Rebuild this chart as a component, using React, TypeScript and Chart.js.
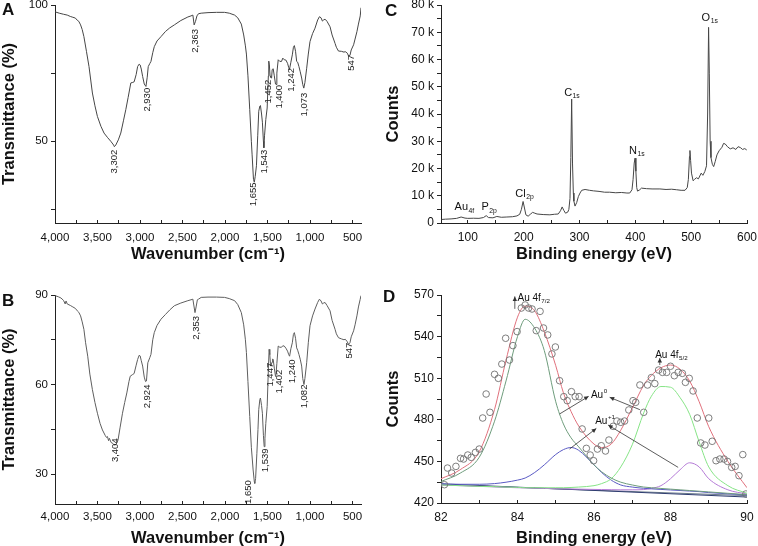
import React, { useEffect, useRef } from "react";
import { Chart, registerables } from "chart.js";

Chart.register(...registerables);

const FONT = '"Liberation Sans", Arial, Helvetica, sans-serif';
const INK = "#222";

// ---------------- Panel A : FTIR ----------------
const ftirAWavenumber = [4000, 3950, 3900, 3856, 3820, 3790, 3760, 3738, 3720, 3699, 3680, 3660, 3630, 3600, 3560, 3530, 3501, 3460, 3423, 3380, 3344, 3310, 3302, 3285, 3255, 3226, 3195, 3167, 3140, 3108, 3085, 3069, 3045, 3028, 3010, 2998, 2985, 2969, 2950, 2930, 2915, 2903, 2885, 2871, 2850, 2832, 2800, 2753, 2700, 2650, 2596, 2520, 2437, 2400, 2378, 2363, 2347, 2330, 2312, 2280, 2200, 2100, 2005, 1950, 1887, 1850, 1808, 1780, 1760, 1748, 1730, 1709, 1690, 1681, 1665, 1655, 1645, 1630, 1615, 1603, 1590, 1583, 1570, 1560, 1548, 1543, 1535, 1520, 1504, 1490, 1485, 1478, 1470, 1461, 1452, 1445, 1433, 1420, 1406, 1400, 1390, 1374, 1355, 1335, 1320, 1303, 1284, 1264, 1250, 1242, 1225, 1208, 1195, 1184, 1170, 1157, 1145, 1130, 1115, 1098, 1085, 1073, 1060, 1039, 1020, 1000, 970, 941, 910, 889, 870, 854, 840, 823, 800, 764, 740, 705, 690, 665, 630, 600, 586, 560, 547, 530, 515, 487, 470, 448, 430, 409, 400];
const ftirATransmittance = [97.5, 97.0, 96.6, 96.3, 95.8, 95.5, 95.2, 94.4, 94.0, 92.7, 91.0, 88.4, 83.0, 77.4, 67.7, 63.0, 59.1, 55.5, 53.0, 51.3, 50.0, 48.6, 48.0, 48.6, 50.5, 53.0, 57.5, 61.6, 66.0, 71.4, 71.6, 71.8, 74.5, 77.4, 78.3, 78.0, 76.5, 73.8, 71.0, 70.1, 73.5, 77.4, 78.5, 79.3, 82.5, 84.7, 86.8, 88.4, 90.3, 91.6, 92.7, 94.3, 95.6, 96.0, 96.3, 92.7, 94.0, 96.0, 96.8, 97.0, 97.2, 97.3, 97.3, 97.0, 96.3, 95.3, 93.0, 89.0, 85.0, 82.0, 74.0, 61.6, 50.0, 45.0, 36.0, 35.0, 37.0, 41.0, 52.0, 61.0, 62.9, 63.1, 60.0, 57.0, 50.0, 47.6, 52.0, 58.0, 62.2, 74.0, 79.4, 78.0, 74.0, 73.4, 73.2, 76.3, 76.6, 74.0, 71.0, 70.8, 75.0, 79.9, 79.3, 79.3, 80.5, 79.9, 79.8, 78.6, 77.0, 76.3, 79.0, 81.7, 84.5, 85.1, 83.0, 79.3, 79.0, 77.4, 75.5, 73.2, 70.8, 69.5, 71.5, 76.8, 82.0, 86.6, 89.5, 91.5, 94.5, 95.7, 95.3, 94.1, 94.5, 94.8, 94.0, 92.0, 89.0, 85.9, 84.5, 83.1, 83.0, 82.7, 82.9, 82.3, 81.3, 81.5, 83.5, 85.4, 87.5, 90.2, 93.0, 96.0, 99.0];
const peakALabels = ["3,302", "2,930", "2,363", "1,655", "1,543", "1,452", "1,400", "1,242", "1,073", "547"];
const peakAWavenumber = [3297, 2918, 2349, 1666, 1535, 1488, 1358, 1216, 1063, 519];
const peakATransmittance = [46.9, 69.6, 91.2, 34.9, 46.9, 72.6, 70.7, 76.9, 67.8, 81.7];

// ---------------- Panel B : FTIR ----------------
const ftirBWavenumber = [4000, 3960, 3930, 3900, 3880, 3870, 3856, 3820, 3790, 3760, 3738, 3720, 3699, 3680, 3660, 3640, 3615, 3590, 3560, 3530, 3501, 3470, 3442, 3410, 3395, 3383, 3370, 3360, 3340, 3320, 3305, 3290, 3270, 3258, 3235, 3206, 3180, 3155, 3130, 3115, 3090, 3069, 3045, 3028, 3010, 2998, 2985, 2969, 2950, 2935, 2924, 2908, 2885, 2871, 2850, 2832, 2800, 2753, 2700, 2650, 2596, 2520, 2437, 2400, 2378, 2353, 2340, 2325, 2312, 2280, 2200, 2100, 2005, 1950, 1887, 1850, 1808, 1780, 1760, 1748, 1730, 1709, 1690, 1669, 1655, 1650, 1640, 1625, 1612, 1603, 1590, 1583, 1570, 1560, 1548, 1539, 1530, 1520, 1504, 1490, 1481, 1473, 1465, 1461, 1447, 1440, 1433, 1420, 1406, 1402, 1390, 1374, 1355, 1335, 1320, 1303, 1284, 1264, 1250, 1240, 1225, 1208, 1195, 1184, 1170, 1157, 1145, 1130, 1115, 1098, 1085, 1071, 1060, 1039, 1020, 1000, 970, 941, 910, 889, 870, 854, 840, 823, 800, 764, 740, 705, 690, 665, 630, 600, 586, 565, 547, 530, 515, 487, 470, 448, 430, 410, 400];
const ftirBTransmittance = [89.8, 89.4, 89.0, 88.2, 87.0, 88.0, 87.0, 86.5, 86.0, 85.5, 84.7, 84.2, 83.0, 81.0, 78.5, 74.0, 69.5, 63.5, 58.3, 54.0, 50.4, 47.0, 44.8, 43.0, 42.3, 42.6, 41.2, 42.0, 40.6, 40.3, 39.8, 39.8, 40.5, 41.5, 45.5, 50.4, 54.0, 57.2, 61.0, 62.8, 63.3, 63.7, 66.5, 68.4, 69.8, 69.6, 68.0, 66.2, 62.5, 61.0, 61.2, 67.3, 69.0, 70.1, 75.0, 77.4, 79.8, 81.9, 83.5, 85.0, 86.4, 87.3, 88.1, 88.4, 88.6, 84.1, 86.0, 88.4, 88.6, 89.2, 89.3, 89.3, 89.2, 88.8, 88.1, 86.8, 84.1, 80.0, 75.0, 70.7, 61.0, 49.3, 39.0, 31.4, 27.5, 26.9, 28.5, 37.0, 45.0, 51.6, 55.0, 55.5, 53.0, 50.4, 43.0, 39.2, 42.0, 47.0, 52.7, 65.0, 71.8, 70.0, 67.0, 66.2, 67.5, 68.6, 68.4, 65.5, 62.8, 62.7, 67.0, 72.9, 72.5, 72.5, 73.0, 72.9, 72.2, 71.2, 70.0, 69.5, 72.0, 74.0, 76.8, 77.4, 75.5, 72.3, 71.5, 70.1, 68.5, 66.2, 62.0, 60.0, 62.0, 67.3, 74.0, 79.7, 83.0, 85.3, 87.5, 88.6, 88.0, 87.0, 87.3, 87.5, 86.5, 84.7, 81.5, 78.5, 77.0, 75.7, 75.3, 75.0, 75.2, 74.5, 73.5, 74.0, 76.0, 78.0, 80.0, 83.0, 86.0, 88.5, 89.8];
const peakBLabels = ["3,404", "2,924", "2,353", "1,650", "1,539", "1,447", "1,402", "1,240", "1,082", "547"];
const peakBWavenumber = [3288, 2918, 2331, 1725, 1523, 1463, 1358, 1205, 1063, 531];
const peakBTransmittance = [42.0, 60.0, 83.0, 28.0, 38.6, 67.3, 65.0, 68.4, 60.0, 74.0];

// ---------------- Panel C : XPS survey ----------------
const surveyEnergy = [53, 60, 70, 80, 88, 95, 100, 110, 120, 128, 133, 137, 145, 152, 160, 170, 180, 188, 193, 196, 199, 201.5, 204, 208, 212, 216, 220, 224, 235, 247, 255, 262, 266, 269, 272, 275, 279, 281, 283, 284.5, 286, 287.5, 289, 290, 292, 295, 298, 301, 304, 310, 318, 325, 335, 345, 354, 365, 375, 385, 390, 394, 396, 398, 399.5, 401, 402.5, 404, 408, 411, 420, 430, 444, 455, 465, 474, 482, 489, 493, 495, 497, 497.8, 499, 500.6, 503.5, 506, 509.5, 513, 518, 521, 524.5, 527.5, 529.5, 531.2, 532.5, 534, 535.5, 538, 540.3, 543, 546.2, 550, 555.2, 558, 561, 565, 570, 575, 580, 584, 588, 592, 596, 599.5];
const surveyCounts = [1300, 1400, 1500, 1700, 2200, 1800, 1700, 1750, 1700, 2000, 2700, 2000, 1900, 2400, 2100, 2200, 2300, 2600, 3200, 5000, 7900, 5500, 3000, 2500, 3200, 3900, 3600, 3300, 3100, 3000, 3200, 3300, 4500, 5900, 4600, 3600, 4000, 5000, 9000, 24000, 45500, 22000, 11000, 8000, 6200, 7500, 9700, 11000, 12000, 12300, 12000, 11800, 11600, 11300, 11300, 11100, 11200, 11000, 11000, 12200, 16000, 22000, 23800, 19000, 13000, 11700, 12200, 12800, 12600, 12500, 12500, 12300, 12400, 12200, 12000, 12000, 13000, 16000, 24500, 26600, 23000, 18300, 15500, 16000, 16600, 16200, 18300, 17500, 18900, 21000, 40000, 71800, 55000, 30000, 24000, 21500, 20700, 22500, 25000, 26500, 27800, 29200, 29000, 28000, 27200, 27600, 27000, 28000, 27700, 27000, 27300, 26800];
const surveyLabelMain = ["Au", "P", "Cl", "C", "N", "O"];
const surveyLabelSub = ["4f", "2p", "2p", "1s", "1s", "1s"];
const surveyLabelEnergy = [76.4, 124.5, 185, 272.5, 388.6, 518.7];
const surveyLabelCounts = [5800, 5800, 10700, 47900, 26500, 75300];

// ---------------- Panel D : Au 4f ----------------
const auEnergy = [82.09, 82.17, 82.28, 82.39, 82.51, 82.59, 82.70, 82.79, 82.90, 83.00, 83.09, 83.18, 83.28, 83.40, 83.50, 83.59, 83.69, 83.79, 83.88, 83.99, 84.10, 84.20, 84.29, 84.38, 84.49, 84.59, 84.68, 84.79, 84.90, 84.99, 85.10, 85.21, 85.30, 85.41, 85.51, 85.61, 85.69, 85.80, 85.90, 85.99, 86.09, 86.19, 86.30, 86.39, 86.50, 86.60, 86.70, 86.80, 86.91, 87.02, 87.09, 87.20, 87.30, 87.40, 87.50, 87.59, 87.69, 87.79, 87.90, 88.00, 88.10, 88.20, 88.31, 88.39, 88.49, 88.59, 88.70, 88.79, 88.90, 89.00, 89.09, 89.19, 89.29, 89.40, 89.49, 89.60, 89.69, 89.79, 89.89, 89.97];
const auCounts = [433.2, 445.2, 441.6, 446.4, 452.2, 451.7, 454.6, 452.9, 456.5, 458.9, 481.3, 498.6, 485.4, 512.8, 509.9, 520.2, 538.8, 523.1, 533.5, 543.6, 560.6, 562.8, 560.6, 559.9, 544.3, 558.2, 546.2, 541.2, 527.5, 532.5, 508.2, 496.7, 493.8, 500.3, 496.7, 496.7, 473.4, 459.4, 454.6, 450.5, 458.9, 461.3, 457.5, 465.4, 475.3, 479.1, 478.2, 479.1, 487.1, 493.8, 492.6, 505.1, 485.4, 505.1, 510.4, 506.1, 515.9, 514.2, 514.2, 518.6, 511.8, 514.2, 513.5, 507.0, 509.9, 500.8, 481.3, 463.3, 461.8, 481.3, 464.5, 450.5, 451.7, 451.7, 450.0, 445.7, 446.4, 439.7, 454.9, 426.5];
const fitEnergy = [82, 82.5, 83, 83.4, 83.7, 84, 84.2, 84.45, 84.7, 85, 85.2, 85.4, 85.6, 86, 86.2, 86.45, 86.7, 87, 87.3, 87.5, 87.75, 88, 88.25, 88.5, 88.75, 89, 89.5, 90];
const fitEnvelope = [437.5, 444, 457, 487.5, 523, 554, 562, 558.5, 543.5, 519, 499.5, 486, 475.5, 462.5, 460, 462.5, 472.5, 488.5, 505, 512, 517.5, 519.5, 516.5, 508, 493, 475, 450, 431];
const fitAu0_7_2 = [435.5, 441.5, 453, 479, 508, 540, 552.5, 546, 530, 493, 477, 467, 460.5, 447.5, 442.5, 438, 435, 433, 431.5, 431, 430.5, 430, 429.5, 429, 428.5, 428, 427, 426];
const fitAu0_5_2 = [433, 432.5, 432, 431.8, 431.5, 431.3, 431, 431, 431, 431, 431, 431.2, 431.5, 432.5, 434, 437.5, 446, 462, 485, 497, 504, 503.5, 496, 484, 464, 446, 432.5, 427];
const fitAu1_7_2 = [433.8, 433.5, 433.5, 434, 435, 436.5, 438, 442, 447.5, 455, 458.5, 460, 458, 447.5, 442, 436.5, 433, 431.5, 430.6, 430.2, 429.8, 429.4, 429, 428.6, 428.2, 427.5, 426.6, 425.8];
const fitAu1_5_2 = [433, 432.5, 432, 431.6, 431.3, 431, 430.9, 430.7, 430.5, 430.3, 430.2, 430.1, 430, 429.8, 429.7, 429.6, 429.5, 429.5, 429.7, 430.5, 432.5, 437.5, 444, 449, 446, 437.5, 429.5, 426.5];
const baseEnergy = [82, 90];
const baseCountsA = [433.8, 424.3];
const baseCountsB = [433.2, 425.3];
// annotation arrows (start energy, start counts, end energy, end counts)
const arrowE1 = [83.93, 87.72, 85.10, 87.20, 85.36, 88.20];
const arrowC1 = [560.0, 519.5, 484.2, 487.3, 458.9, 445.7];
const arrowE2 = [83.93, 87.72, 85.86, 86.41, 86.06, 86.37];
const arrowC2 = [569.0, 524.5, 496.9, 496.2, 473.8, 476.2];
const dTextMain = ["Au 4f", "Au 4f", "Au", "Au"];
const dTextSub = ["7/2", "5/2", "0", "+1"];
const dTextSup = [false, false, true, true];
const dTextEnergy = [84.0, 87.6, 85.92, 86.03];
const dTextCounts = [567.8, 526.6, 498.0, 479.0];

// ---------------- tick values ----------------
const wnMajor = [4000, 3500, 3000, 2500, 2000, 1500, 1000, 500];
const wnMinor = [3750, 3250, 2750, 2250, 1750, 1250, 750];
const tAMajor = [50, 100];
const tAMinor = [25, 75];
const tBMajor = [30, 60, 90];
const tBMinor = [45, 75];
const beCMajor = [100, 200, 300, 400, 500, 600];
const beCMinor = [150, 250, 350, 450, 550];
const cntCMajor = [0, 10000, 20000, 30000, 40000, 50000, 60000, 70000, 80000];
const cntCMinor = [5000, 15000, 25000, 35000, 45000, 55000, 65000, 75000];
const beDMajor = [82, 84, 86, 88, 90];
const beDMinor = [83, 85, 87, 89];
const cntDMajor = [420, 450, 480, 510, 540, 570];
const cntDMinor = [435, 465, 495, 525, 555];

const PAD_L = 60, PAD_T = 20, PAD_R = 25, PAD_B = 50;

type Geo = { l: number; t: number; r: number; b: number };
const GEO_A: Geo = { l: 55, t: 5, r: 361, b: 223 };
const GEO_B: Geo = { l: 55, t: 295, r: 361, b: 504 };
const GEO_C: Geo = { l: 441, t: 5, r: 747, b: 223 };
const GEO_D: Geo = { l: 441, t: 295, r: 747, b: 503 };

const pts = (xs: number[], ys: number[]) => xs.map((x, i) => ({ x, y: ys[i] }));

function axis(opts: any) {
  const { horizontal, min, max, reverse, major, minor, fmt, title, fontSize, tickPad, titlePad } = opts;
  const all = [...major, ...minor].sort((a: number, b: number) => a - b);
  return {
    type: "linear",
    position: horizontal ? "bottom" : "left",
    min,
    max,
    reverse: !!reverse,
    afterFit: (s: any) => {
      if (horizontal) s.height = PAD_B;
      else s.width = PAD_L;
    },
    afterBuildTicks: (s: any) => {
      s.ticks = all.map((v: number) => ({ value: v }));
    },
    border: { display: true, color: INK, width: 1 },
    grid: {
      display: true,
      drawOnChartArea: false,
      drawTicks: true,
      tickLength: horizontal ? -3 : 4,
      color: INK,
      tickColor: INK,
      lineWidth: 1,
    },
    ticks: {
      autoSkip: false,
      maxRotation: 0,
      minRotation: 0,
      padding: tickPad,
      color: "#111",
      font: { family: FONT, size: fontSize },
      callback: (v: any) => (major.includes(Number(v)) ? fmt(Number(v)) : ""),
    },
    title: {
      display: true,
      text: title,
      color: "#111",
      font: { family: FONT, size: 16.5, weight: "bold" },
      padding: horizontal ? { top: 0, bottom: titlePad } : { top: titlePad, bottom: 0 },
    },
  };
}

const comma = (v: number) => v.toLocaleString("en-US");

function peakLabelPlugin(labels: string[], xs: number[], ys: number[]) {
  return {
    id: "peakLabels",
    afterDatasetsDraw(chart: any) {
      const { ctx } = chart;
      const sx = chart.scales.x, sy = chart.scales.y;
      ctx.save();
      ctx.font = `9.5px ${FONT}`;
      ctx.fillStyle = "#222";
      ctx.textAlign = "right";
      ctx.textBaseline = "middle";
      labels.forEach((t, i) => {
        ctx.save();
        ctx.translate(sx.getPixelForValue(xs[i]), sy.getPixelForValue(ys[i]));
        ctx.rotate(-Math.PI / 2);
        ctx.fillText(t, 0, 0);
        ctx.restore();
      });
      ctx.restore();
    },
  };
}

function drawScripted(ctx: any, x: number, y: number, main: string, sub: string, size: number, sup: boolean) {
  ctx.font = `${size}px ${FONT}`;
  ctx.textAlign = "left";
  ctx.textBaseline = "middle";
  ctx.fillText(main, x, y);
  const w = ctx.measureText(main).width;
  const s = size * 0.62;
  ctx.font = `${s}px ${FONT}`;
  ctx.fillText(sub, x + w + 0.5, y + (sup ? -size * 0.35 : size * 0.32));
}

const surveyLabelPlugin = {
  id: "surveyLabels",
  afterDatasetsDraw(chart: any) {
    const { ctx } = chart;
    const sx = chart.scales.x, sy = chart.scales.y;
    ctx.save();
    ctx.fillStyle = "#111";
    surveyLabelMain.forEach((m, i) => {
      drawScripted(ctx, sx.getPixelForValue(surveyLabelEnergy[i]), sy.getPixelForValue(surveyLabelCounts[i]), m, surveyLabelSub[i], 11, false);
    });
    ctx.restore();
  },
};

const auAnnotPlugin = {
  id: "auAnnot",
  afterDatasetsDraw(chart: any) {
    const { ctx } = chart;
    const sx = chart.scales.x, sy = chart.scales.y;
    ctx.save();
    ctx.strokeStyle = "#333";
    ctx.fillStyle = "#333";
    ctx.lineWidth = 0.8;
    arrowE1.forEach((e, i) => {
      const x1 = sx.getPixelForValue(e), y1 = sy.getPixelForValue(arrowC1[i]);
      const x2 = sx.getPixelForValue(arrowE2[i]), y2 = sy.getPixelForValue(arrowC2[i]);
      ctx.beginPath();
      ctx.moveTo(x1, y1);
      ctx.lineTo(x2, y2);
      ctx.stroke();
      const a = Math.atan2(y2 - y1, x2 - x1);
      const L = 4.5, W = 2.2;
      ctx.beginPath();
      ctx.moveTo(x2, y2);
      ctx.lineTo(x2 - L * Math.cos(a) + W * Math.sin(a), y2 - L * Math.sin(a) - W * Math.cos(a));
      ctx.lineTo(x2 - L * Math.cos(a) - W * Math.sin(a), y2 - L * Math.sin(a) + W * Math.cos(a));
      ctx.closePath();
      ctx.fill();
    });
    ctx.fillStyle = "#111";
    dTextMain.forEach((m, i) => {
      drawScripted(ctx, sx.getPixelForValue(dTextEnergy[i]), sy.getPixelForValue(dTextCounts[i]), m, dTextSub[i], 10, dTextSup[i]);
    });
    ctx.restore();
  },
};

const lineDs = (xs: number[], ys: number[], color: string, width = 1) => ({
  data: pts(xs, ys),
  showLine: true,
  borderColor: color,
  backgroundColor: color,
  borderWidth: width,
  pointRadius: 0,
  pointHoverRadius: 0,
  tension: 0,
});

const smoothDs = (xs: number[], ys: number[], color: string) => ({
  ...lineDs(xs, ys, color, 1),
  cubicInterpolationMode: "monotone",
});

function baseOptions(scales: any) {
  return {
    responsive: false,
    animation: false,
    devicePixelRatio: 1,
    layout: { padding: { left: 0, top: PAD_T, right: PAD_R, bottom: 0 } },
    plugins: { legend: { display: false }, tooltip: { enabled: false }, title: { display: false } },
    events: [],
    scales,
  };
}

const configA = () => ({
  type: "scatter",
  data: { datasets: [lineDs(ftirAWavenumber, ftirATransmittance, "#464646")] },
  options: baseOptions({
    x: axis({ horizontal: true, min: 400, max: 4000, reverse: true, major: wnMajor, minor: wnMinor, fmt: comma, title: "Wavenumber (cm⁻¹)", fontSize: 11.5, tickPad: 10.6, titlePad: 9.1 }),
    y: axis({ horizontal: false, min: 20, max: 100, major: tAMajor, minor: tAMinor, fmt: String, title: "Transmittance (%)", fontSize: 11.5, tickPad: 3, titlePad: 4.3 }),
  }),
  plugins: [peakLabelPlugin(peakALabels, peakAWavenumber, peakATransmittance)],
});

const configB = () => ({
  type: "scatter",
  data: { datasets: [lineDs(ftirBWavenumber, ftirBTransmittance, "#5e5e5e")] },
  options: baseOptions({
    x: axis({ horizontal: true, min: 400, max: 4000, reverse: true, major: wnMajor, minor: wnMinor, fmt: comma, title: "Wavenumber (cm⁻¹)", fontSize: 11.5, tickPad: 9.4, titlePad: 6.1 }),
    y: axis({ horizontal: false, min: 20, max: 90, major: tBMajor, minor: tBMinor, fmt: String, title: "Transmittance (%)", fontSize: 11.5, tickPad: 3, titlePad: 4.3 }),
  }),
  plugins: [peakLabelPlugin(peakBLabels, peakBWavenumber, peakBTransmittance)],
});

const configC = () => ({
  type: "scatter",
  data: { datasets: [lineDs(surveyEnergy, surveyCounts, "#464646")] },
  options: baseOptions({
    x: axis({ horizontal: true, min: 52, max: 600, major: beCMajor, minor: beCMinor, fmt: String, title: "Binding energy (eV)", fontSize: 12, tickPad: 10.3, titlePad: 9.1 }),
    y: axis({ horizontal: false, min: 0, max: 80000, major: cntCMajor, minor: cntCMinor, fmt: (v: number) => (v === 0 ? "0" : `${v / 1000} k`), title: "Counts", fontSize: 12, tickPad: 3, titlePad: 2.1 }),
  }),
  plugins: [surveyLabelPlugin],
});

const configD = () => ({
  type: "scatter",
  data: {
    datasets: [
      {
        data: pts(auEnergy, auCounts),
        showLine: false,
        pointRadius: 3.3,
        pointHoverRadius: 3.3,
        pointBorderWidth: 0.9,
        borderColor: "#707070",
        backgroundColor: "rgba(0,0,0,0)",
        pointBorderColor: "#707070",
        pointBackgroundColor: "rgba(0,0,0,0)",
      },
      smoothDs(fitEnergy, fitEnvelope, "#e0707c"),
      smoothDs(fitEnergy, fitAu0_7_2, "#6e9c7c"),
      smoothDs(fitEnergy, fitAu0_5_2, "#86e486"),
      smoothDs(fitEnergy, fitAu1_7_2, "#5a5ac4"),
      smoothDs(fitEnergy, fitAu1_5_2, "#b47ad6"),
      lineDs(baseEnergy, baseCountsA, "#2e3c70"),
      lineDs(baseEnergy, baseCountsB, "#6a7a8a"),
    ],
  },
  options: baseOptions({
    x: axis({ horizontal: true, min: 82, max: 90, major: beDMajor, minor: beDMinor, fmt: String, title: "Binding energy (eV)", fontSize: 12, tickPad: 10.1, titlePad: 5.1 }),
    y: axis({ horizontal: false, min: 420, max: 570, major: cntDMajor, minor: cntDMinor, fmt: String, title: "Counts", fontSize: 12, tickPad: 3, titlePad: 2.1 }),
  }),
  plugins: [auAnnotPlugin],
});

function Panel({ geo, make }: { geo: Geo; make: () => any }) {
  const ref = useRef<HTMLCanvasElement>(null);
  const w = geo.r - geo.l + PAD_L + PAD_R;
  const h = geo.b - geo.t + PAD_T + PAD_B;
  useEffect(() => {
    const chart = new Chart(ref.current as HTMLCanvasElement, make() as any);
    return () => chart.destroy();
  }, []);
  return (
    <canvas
      ref={ref}
      width={w}
      height={h}
      style={{ position: "absolute", left: geo.l - PAD_L, top: geo.t - PAD_T, width: w, height: h }}
    />
  );
}

const letter = (left: number, top: number): React.CSSProperties => ({
  position: "absolute",
  left,
  top,
  fontFamily: FONT,
  fontWeight: "bold",
  fontSize: 17,
  lineHeight: "17px",
  color: "#111",
});

export default function App() {
  Chart.defaults.font.family = FONT;
  return (
    <div style={{ position: "absolute", left: 0, top: 0, width: 758, height: 546, overflow: "hidden", background: "#fff" }}>
      <Panel geo={GEO_A} make={configA} />
      <Panel geo={GEO_B} make={configB} />
      <Panel geo={GEO_C} make={configC} />
      <Panel geo={GEO_D} make={configD} />
      <div style={letter(2, 1)}>A</div>
      <div style={letter(2, 292)}>B</div>
      <div style={letter(385, 2)}>C</div>
      <div style={letter(383, 288)}>D</div>
    </div>
  );
}
